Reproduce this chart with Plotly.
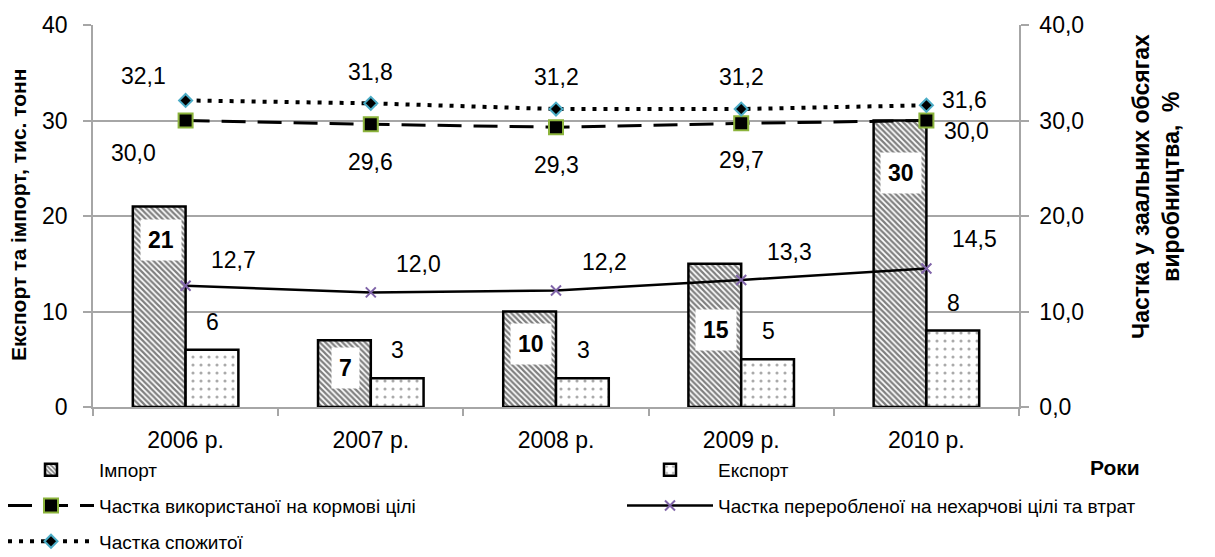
import plotly.graph_objects as go

# ---- data ----
years = ["2006 р.", "2007 р.", "2008 р.", "2009 р.", "2010 р."]
imports = [21, 7, 10, 15, 30]
exports = [6, 3, 3, 5, 8]
feed_share = [30.0, 29.6, 29.3, 29.7, 30.0]
nonfood_share = [12.7, 12.0, 12.2, 13.3, 14.5]
consumed_share = [32.1, 31.8, 31.2, 31.2, 31.6]

# ---- label placement (pixel offsets from the marks) ----
import_lbl_dy = [-34, -28, -32, -66, -52]
feed_lbl_off = [(-52, 32), (0, 38), (0, 38), (0, 37), (40, 10)]
cons_lbl_off = [(-42, -24), (0, -31), (0, -32), (0, -32), (38, -5)]
nonf_lbl_off = [(48, -26), (48, -28), (48, -28), (48, -28), (48, -30)]

FONT = "Liberation Sans, Arial, sans-serif"
GRID = "#a6a6a6"

# page body has an 8px margin: work in screen pixels, convert to figure pixels
OFF = 8
W, H = 1215 - OFF, 557 - OFF
PX0, PX1, PY0, PY1 = 93, 1019, 25, 407          # plot area in screen px
L, T = PX0 - OFF, PY0 - OFF
R, B = W - (PX1 - OFF), H - (PY1 - OFF)
PW, PH = PX1 - PX0, PY1 - PY0


def px2x(px):
    return (px - PX0) / PW


def px2y(py):
    return (PY1 - py) / PH


def fmt(v):
    return f"{v:.1f}".replace(".", ",")


fig = go.Figure()

fig.add_trace(go.Bar(
    name="Імпорт", x=years, y=imports,
    marker=dict(color="white", line=dict(color="black", width=2.5),
                pattern=dict(shape="\\", fgcolor="black", bgcolor="white",
                             size=4, solidity=0.55)),
    legend="legend", legendgroup="a",
))
fig.add_trace(go.Bar(
    name="Експорт", x=years, y=exports,
    marker=dict(color="white", line=dict(color="black", width=2.5),
                pattern=dict(shape=".", fgcolor="#555555", bgcolor="white",
                             size=8, solidity=0.12)),
    legend="legend2", legendgroup="b",
))
fig.add_trace(go.Scatter(
    name="Частка використаної на кормові цілі", x=years, y=feed_share,
    yaxis="y2", mode="lines+markers",
    line=dict(color="black", width=3, dash="24px,12px"),
    marker=dict(symbol="square", size=14, color="black",
                line=dict(color="#8cb43c", width=2)),
    legend="legend", legendgroup="c",
))
fig.add_trace(go.Scatter(
    name="Частка переробленої на нехарчові цілі та втрат", x=years, y=nonfood_share,
    yaxis="y2", mode="lines+markers",
    line=dict(color="black", width=2.5),
    marker=dict(symbol="x-thin", size=10, color="#7f63a8",
                line=dict(color="#7f63a8", width=2)),
    legend="legend2", legendgroup="d",
))
fig.add_trace(go.Scatter(
    name="Частка спожитої", x=years, y=consumed_share,
    yaxis="y2", mode="lines+markers",
    line=dict(color="black", width=4, dash="4px,7px"),
    marker=dict(symbol="diamond", size=10, color="black",
                line=dict(color="#4bacc6", width=2)),
    legend="legend", legendgroup="e",
))

ann = []
for xv, v, dy in zip(years, imports, import_lbl_dy):
    ann.append(dict(x=xv, y=v, xref="x", yref="y", text=f"<b>{v}</b>",
                    showarrow=False, xshift=-25, yshift=dy,
                    bgcolor="white", borderpad=7,
                    font=dict(size=23, color="black", family=FONT)))
for xv, v in zip(years, exports):
    ann.append(dict(x=xv, y=v, xref="x", yref="y", text=str(v),
                    showarrow=False, xshift=27, yshift=28,
                    font=dict(size=23, color="black", family=FONT)))
for series, offs in ((feed_share, feed_lbl_off), (consumed_share, cons_lbl_off),
                     (nonfood_share, nonf_lbl_off)):
    for xv, v, (dx, dy) in zip(years, series, offs):
        ann.append(dict(x=xv, y=v, xref="x", yref="y2", text=fmt(v),
                        showarrow=False, xshift=dx, yshift=-dy,
                        font=dict(size=23, color="black", family=FONT)))

ann.append(dict(x=px2x(18), y=px2y(215), xref="paper", yref="paper",
                xanchor="center", yanchor="middle",
                text="<b>Експорт та імпорт, тис. тонн</b>", textangle=-90,
                showarrow=False, font=dict(size=21, color="black", family=FONT)))
ann.append(dict(x=px2x(1156), y=px2y(187), xref="paper", yref="paper",
                xanchor="center", yanchor="middle",
                text="<b>Частка у заальних обсягах<br>виробництва,  %</b>", textangle=-90,
                showarrow=False, font=dict(size=23, color="black", family=FONT)))
ann.append(dict(x=px2x(1115), y=px2y(467), xref="paper", yref="paper",
                xanchor="center", yanchor="middle",
                text="<b>Роки</b>", showarrow=False,
                font=dict(size=21, color="black", family=FONT)))

legend_common = dict(font=dict(size=19, color="black", family=FONT),
                     bgcolor="rgba(0,0,0,0)", itemwidth=86, tracegroupgap=8,
                     orientation="v", yanchor="top", xanchor="left",
                     itemclick=False, itemdoubleclick=False)

fig.update_layout(
    width=W, height=H,
    margin=dict(l=L, r=R, t=T, b=B, autoexpand=False),
    paper_bgcolor="white", plot_bgcolor="white",
    separators=", ",
    barmode="group", bargap=0.43, bargroupgap=0,
    font=dict(family=FONT, color="black", size=20),
    annotations=ann,
    legend=dict(x=px2x(3), y=px2y(451), **legend_common),
    legend2=dict(x=px2x(622), y=px2y(451), **legend_common),
    xaxis=dict(showline=True, linecolor=GRID, linewidth=1.5, ticks="outside",
               tickson="boundaries", ticklen=7, tickcolor=GRID, tickwidth=1.5,
               ticklabelstandoff=12, automargin=False,
               tickfont=dict(size=23, family=FONT, color="black")),
    yaxis=dict(range=[0, 40], dtick=10, showgrid=True, gridcolor=GRID, gridwidth=1.5,
               showline=True, linecolor=GRID, linewidth=1.5, ticks="outside",
               ticklen=8, tickcolor=GRID, tickwidth=1.5, zeroline=False,
               ticklabelstandoff=11, automargin=False,
               tickfont=dict(size=23, family=FONT, color="black")),
    yaxis2=dict(range=[0, 40], dtick=10, overlaying="y", side="right",
                tickformat=".1f", showgrid=False, showline=True, linecolor=GRID,
                linewidth=1.5, ticks="outside", ticklen=8, tickcolor=GRID,
                tickwidth=1.5, zeroline=False, ticklabelstandoff=6, automargin=False,
                tickfont=dict(size=23, family=FONT, color="black")),
)

fig.write_html("out.html")
